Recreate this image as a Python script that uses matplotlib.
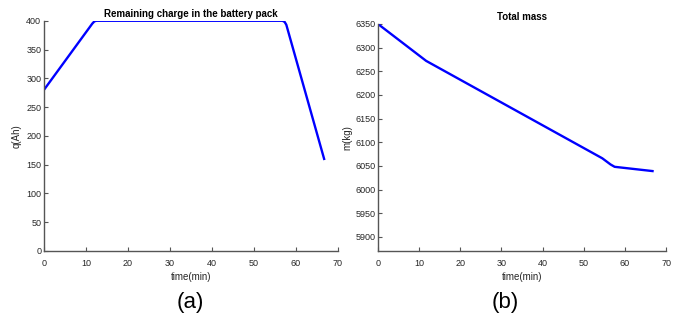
import matplotlib.pyplot as plt

plt.rcParams['font.family'] = ['Liberation Sans', 'DejaVu Sans']

# remaining charge (Ah) vs time (min)
t_q = [0, 11.5, 12.0, 12.5, 56.8, 57.3, 57.7, 66.7]
q = [280, 395, 399, 400, 400, 398, 393, 160]

# total mass (kg) vs time (min)
t_m = [0, 11.7, 54.5, 56.5, 57.5, 66.7]
m = [6350, 6272, 6066, 6053, 6048, 6039]

gray = '#262626'

fig = plt.figure(figsize=(6.86, 3.22), dpi=100)

def style(ax):
    for s in ['top', 'right']:
        ax.spines[s].set_visible(False)
    for s in ['left', 'bottom']:
        ax.spines[s].set_color('#555555')
        ax.spines[s].set_linewidth(1.0)
    ax.tick_params(direction='in', length=3, width=0.8, colors='#555555',
                   labelcolor=gray, labelsize=6.5, pad=2)
    ax.tick_params(axis='x', pad=6)

ax1 = fig.add_axes([0.0641, 0.2205, 0.4286, 0.7150])
ax1.plot(t_q, q, color='blue', lw=1.7)
ax1.set_xlim(0, 70)
ax1.set_ylim(0, 400)
ax1.set_xticks(range(0, 71, 10))
ax1.set_yticks(range(0, 401, 50))
ax1.set_title('Remaining charge in the battery pack', fontsize=7, fontweight='bold', pad=3)
ax1.set_xlabel('time(min)', fontsize=7, color=gray, labelpad=3)
ax1.set_ylabel('q(Ah)', fontsize=7, color=gray, labelpad=3)
style(ax1)

ax2 = fig.add_axes([0.551, 0.2205, 0.420, 0.705])
ax2.plot(t_m, m, color='blue', lw=1.7)
ax2.set_xlim(0, 70)
ax2.set_ylim(5870, 6350)
ax2.set_xticks(range(0, 71, 10))
ax2.set_yticks(range(5900, 6351, 50))
ax2.set_title('Total mass', fontsize=7, fontweight='bold', pad=3)
ax2.set_xlabel('time(min)', fontsize=7, color=gray, labelpad=3)
ax2.set_ylabel('m(kg)', fontsize=7, color=gray, labelpad=2)
style(ax2)

fig.text(0.277, 0.062, '(a)', fontsize=16, ha='center', va='center')
fig.text(0.736, 0.062, '(b)', fontsize=16, ha='center', va='center')

fig.savefig('out.png', dpi=100)
